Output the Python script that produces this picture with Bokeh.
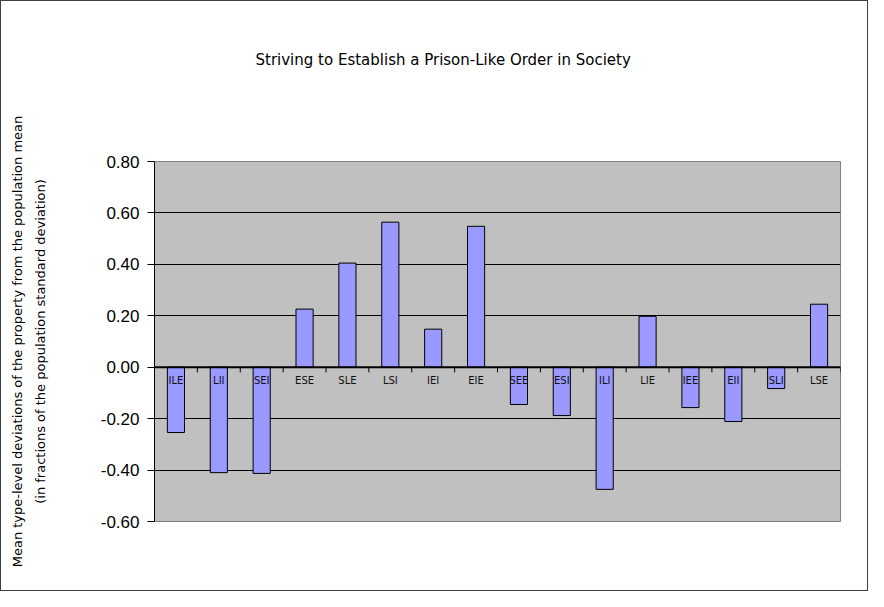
from bokeh.plotting import figure
from bokeh.models import Range1d, FixedTicker, NumeralTickFormatter, Span, Title, ColumnDataSource
from bokeh.core.properties import value
from bokeh.embed import file_html
from bokeh.resources import INLINE

categories = ["ILE", "LII", "SEI", "ESE", "SLE", "LSI", "IEI", "EIE",
              "SEE", "ESI", "ILI", "LIE", "IEE", "EII", "SLI", "LSE"]
values = [-0.254, -0.410, -0.413, 0.226, 0.405, 0.564, 0.148, 0.548,
          -0.145, -0.188, -0.475, 0.198, -0.157, -0.211, -0.083, 0.245]
y_ticks = [-0.6, -0.4, -0.2, 0.0, 0.2, 0.4, 0.6, 0.8]

title_text = "Striving to Establish a Prison-Like Order in Society"
ylabel_1 = "Mean type-level deviations of the property from the population mean"
ylabel_2 = "(in fractions of the population standard deviation)"

n = len(categories)
xs = [i + 0.5 for i in range(n)]
bounds = list(range(n + 1))

p = figure(width=866, height=589, output_backend="svg", toolbar_location=None,
           x_range=Range1d(0, n), y_range=Range1d(y_ticks[0], y_ticks[-1]),
           frame_width=686, frame_height=360,
           min_border_left=153, min_border_right=27, min_border_top=160, min_border_bottom=69)
p.styles = {"border": "1px solid #404040"}
p.background_fill_color = "#C0C0C0"
p.border_fill_color = "white"
p.outline_line_color = "#808080"
p.outline_line_width = 1

p.xaxis.visible = False
p.xgrid.visible = False
p.ygrid.ticker = FixedTicker(ticks=[t for t in y_ticks if t not in (0.0, y_ticks[0], y_ticks[-1])])
p.ygrid.grid_line_color = "black"
p.ygrid.grid_line_width = 1

ax = p.yaxis[0]
ax.ticker = FixedTicker(ticks=y_ticks)
ax.formatter = NumeralTickFormatter(format="0.00")
ax.major_label_text_font = "Liberation Sans"
ax.major_label_text_font_size = "17px"
ax.major_label_text_color = "black"
ax.major_label_standoff = 8
ax.major_tick_out = 7
ax.major_tick_in = 0
ax.minor_tick_out = 0
ax.minor_tick_in = 0
ax.axis_line_color = "black"
ax.major_tick_line_color = "black"
ax.axis_label = ylabel_1 + "\n" + ylabel_2
ax.axis_label_text_font = "DejaVu Sans"
ax.axis_label_text_font_size = "13px"
ax.axis_label_text_font_style = "normal"
ax.axis_label_text_color = "black"
ax.axis_label_text_line_height = 1.5
ax.axis_label_standoff = 50

src = ColumnDataSource(dict(x=xs, top=values, cat=categories))
p.vbar(x="x", top="top", bottom=0, width=0.4, source=src,
       fill_color="#9999FF", line_color="black", line_width=1)

p.add_layout(Span(location=0, dimension="width", line_color="black", line_width=2))
p.segment(x0=bounds, y0=[0] * len(bounds), x1=bounds, y1=[-0.02] * len(bounds),
          line_color="black", line_width=1)

p.text(x="x", y=0, text="cat", source=src, text_align="center", text_baseline="middle",
       y_offset=13, text_font=value("DejaVu Sans"), text_font_size="10px", text_color="#111111")

spacer = Title(text=" ", text_font="DejaVu Sans", text_font_size="13px", standoff=74)
p.add_layout(spacer, "above")
title = Title(text=title_text, align="left", offset=101, vertical_align="top", standoff=0,
              text_font="DejaVu Sans", text_font_size="15px", text_font_style="normal",
              text_color="black")
p.add_layout(title, "above")

open("out.html", "w").write(file_html(p, INLINE))
